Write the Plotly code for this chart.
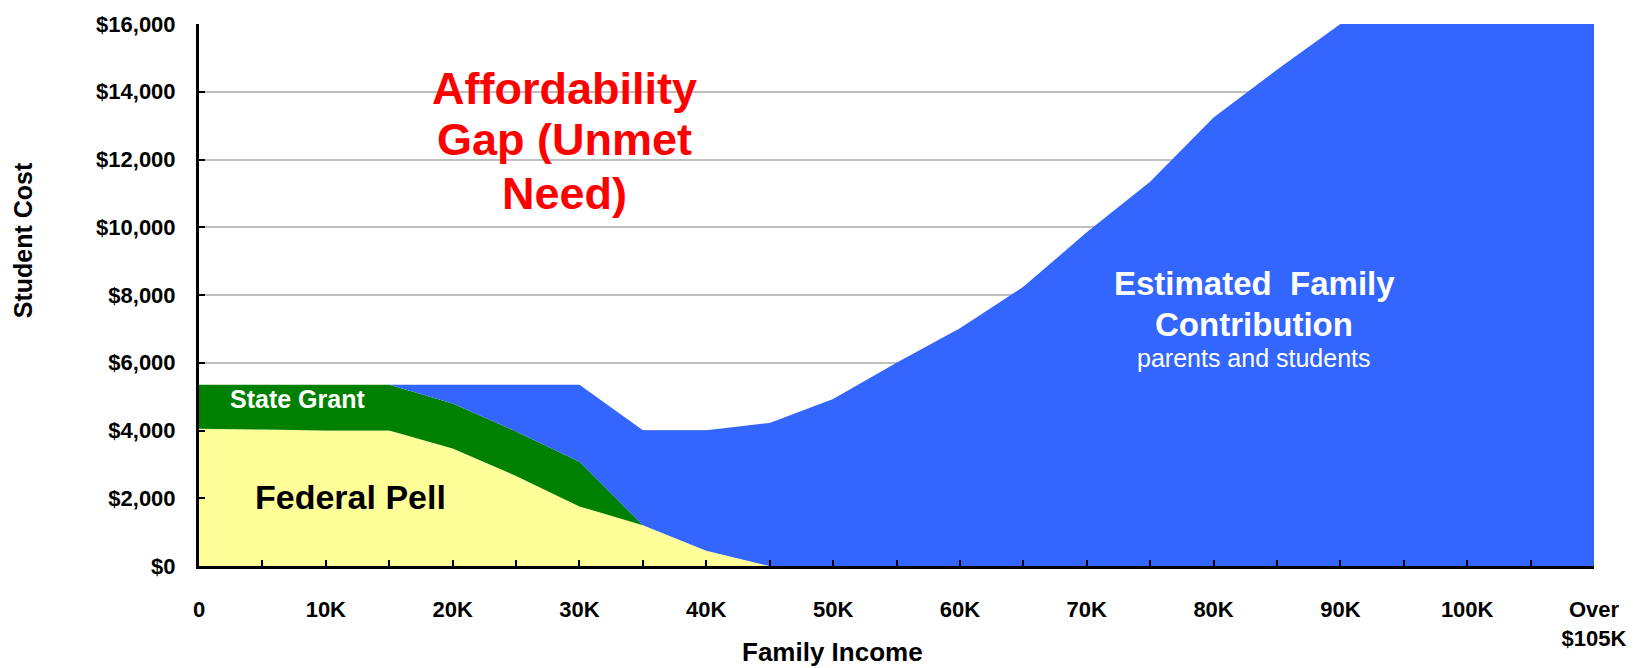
import plotly.graph_objects as go

# Categories (family income)
income = ["0", "5K", "10K", "15K", "20K", "25K", "30K", "35K", "40K", "45K", "50K",
          "55K", "60K", "65K", "70K", "75K", "80K", "85K", "90K", "95K", "100K",
          "105K", "Over $105K"]
tick_text = ["0", "", "10K", "", "20K", "", "30K", "", "40K", "", "50K",
             "", "60K", "", "70K", "", "80K", "", "90K", "", "100K",
             "", "Over<br>$105K"]

# Series values (stacked)
federal_pell = [4050, 4030, 4000, 4000, 3470, 2660, 1760, 1200, 450, 0, 0,
                0, 0, 0, 0, 0, 0, 0, 0, 0, 0, 0, 0]
state_grant = [1300, 1320, 1350, 1350, 1330, 1310, 1315, 0, 0, 0, 0,
               0, 0, 0, 0, 0, 0, 0, 0, 0, 0, 0, 0]
family_contribution = [0, 0, 0, 0, 550, 1380, 2275, 2810, 3560, 4225, 4930,
                       6000, 7020, 8240, 9850, 11340, 13240, 14650, 16000, 16000,
                       16000, 16000, 16000]

y_ticks = [0, 2000, 4000, 6000, 8000, 10000, 12000, 14000, 16000]
y_tick_text = ["$0", "$2,000", "$4,000", "$6,000", "$8,000", "$10,000",
               "$12,000", "$14,000", "$16,000"]

fig = go.Figure()
fig.add_trace(go.Scatter(x=income, y=federal_pell, name="Federal Pell",
                         stackgroup="one", mode="none", fillcolor="#FFFF99"))
fig.add_trace(go.Scatter(x=income, y=state_grant, name="State Grant",
                         stackgroup="one", mode="none", fillcolor="#008000"))
fig.add_trace(go.Scatter(x=income, y=family_contribution, name="Estimated Family Contribution",
                         stackgroup="one", mode="none", fillcolor="#3366FF"))

FONT = "Liberation Sans, Arial, sans-serif"

W, H = 1643, 668
PL, PT, PR, PB = 199, 17, 1594, 566  # plot area in page pixels

fig.update_layout(
    width=W, height=H,
    margin=dict(l=PL, r=W - PR, t=PT, b=H - PB),
    paper_bgcolor="white", plot_bgcolor="white",
    showlegend=False,
    font=dict(family=FONT, color="black"),
    xaxis=dict(
        type="category", range=[0, 22],
        tickmode="array", tickvals=income, ticktext=tick_text,
        ticks="inside", ticklen=6, tickwidth=2, tickcolor="black",
        showline=True, linecolor="black", linewidth=3,
        showgrid=False, zeroline=False,
        tickfont=dict(family=FONT, size=22, color="black", weight="bold"),
        ticklabelstandoff=22, tickangle=0, ticklabeloverflow="allow",
    ),
    yaxis=dict(
        range=[0, 16000],
        tickmode="array", tickvals=y_ticks, ticktext=y_tick_text,
        ticks="inside", ticklen=6, tickwidth=2, tickcolor="black",
        showline=True, linecolor="black", linewidth=3,
        showgrid=True, gridcolor="#C0C0C0", gridwidth=2,
        zeroline=False,
        tickfont=dict(family=FONT, size=22, color="black", weight="bold"),
        ticklabelstandoff=16, ticklabeloverflow="allow",
    ),
)

def px_to_paper_x(px):
    return (px - PL) / float(PR - PL)

def px_to_paper_y(py):
    return (PB - py) / float(PB - PT)

annos = [
    ("Affordability", 564, 82, 45, "red", "bold"),
    ("Gap (Unmet", 564, 134, 45, "red", "bold"),
    ("Need)", 564, 189, 45, "red", "bold"),
    ("State Grant", 297, 397, 25, "white", "bold"),
    ("Federal Pell", 350, 496, 34, "black", "bold"),
    ("Estimated  Family", 1254, 280, 33, "white", "bold"),
    ("Contribution", 1254, 321, 33, "white", "bold"),
    ("parents and students", 1254, 355, 25, "white", "normal"),
    ("Family Income", 832, 653, 26, "black", "bold"),
]
for text, x, y, size, color, weight in annos:
    fig.add_annotation(text=text, xref="paper", yref="paper",
                       x=px_to_paper_x(x), y=px_to_paper_y(y),
                       xanchor="center", yanchor="middle", showarrow=False,
                       font=dict(family=FONT, size=size, color=color, weight=weight))

fig.add_annotation(text="Student Cost", xref="paper", yref="paper",
                   x=px_to_paper_x(23), y=px_to_paper_y(236), textangle=-90,
                   xanchor="center", yanchor="middle", showarrow=False,
                   font=dict(family=FONT, size=25, color="black", weight="bold"))

fig.write_html("out.html",
               config={"displayModeBar": False},
               post_script="document.body.style.margin='0';document.body.style.overflow='hidden';")
